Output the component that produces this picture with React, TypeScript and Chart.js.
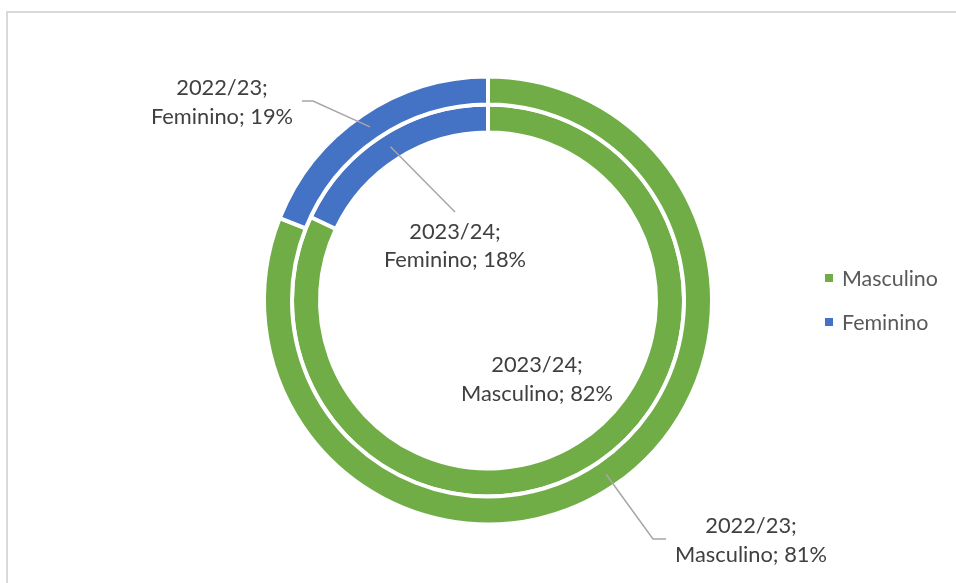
import React, { useEffect, useRef } from "react";
import { Chart, registerables } from "chart.js";

Chart.register(...registerables);

const categories = ["Masculino", "Feminino"];
const seasons = ["2022/23", "2023/24"];
const values2022 = [81, 19];
const values2023 = [82, 18];
const colors = ["#70AD47", "#4472C4"];

// label layout: [datasetIndex, dataIndex, centerX, baseline1, baseline2, leader elbow points]
const labelLayout: Array<{ ds: number; i: number; x: number; y1: number; y2: number; leader: number[][] }> = [
  { ds: 0, i: 1, x: 222, y1: 95, y2: 124, leader: [[302, 101], [313, 101]] },
  { ds: 1, i: 1, x: 455, y1: 239, y2: 267, leader: [[455, 212]] },
  { ds: 1, i: 0, x: 537, y1: 372, y2: 401, leader: [] },
  { ds: 0, i: 0, x: 751, y1: 533, y2: 562, leader: [[666, 539], [653, 539]] },
];

const FONT_FAMILY = "Lato, 'Open Sans', sans-serif";

function fitFontSize(ctx: CanvasRenderingContext2D, text: string, target: number) {
  ctx.save();
  ctx.font = `100px ${FONT_FAMILY}`;
  const w = ctx.measureText(text).width;
  ctx.restore();
  return (100 * target) / w;
}

const labelPlugin = {
  id: "customLabels",
  afterDraw(chart: any) {
    const ctx: CanvasRenderingContext2D = chart.ctx;
    const size = fitFontSize(ctx, "Masculino; 82%", 152);
    ctx.save();
    // leader lines
    ctx.strokeStyle = "#A6A6A6";
    ctx.lineWidth = 1.5;
    labelLayout.forEach((l) => {
      if (!l.leader.length) return;
      const arc = chart.getDatasetMeta(l.ds).data[l.i];
      const c = arc.getCenterPoint();
      ctx.beginPath();
      ctx.moveTo(l.leader[0][0], l.leader[0][1]);
      for (let k = 1; k < l.leader.length; k++) ctx.lineTo(l.leader[k][0], l.leader[k][1]);
      ctx.lineTo(c.x, c.y);
      ctx.stroke();
    });
    // texts
    ctx.font = `${size}px ${FONT_FAMILY}`;
    ctx.fillStyle = "#404040";
    ctx.textAlign = "center";
    ctx.textBaseline = "alphabetic";
    labelLayout.forEach((l) => {
      const ds = chart.data.datasets[l.ds];
      const label = chart.data.labels[l.i];
      ctx.fillText(`${ds.label};`, l.x, l.y1);
      ctx.fillText(`${label}; ${ds.data[l.i]}%`, l.x, l.y2);
    });
    // legend
    const legSize = fitFontSize(ctx, "Masculino", 96);
    ctx.font = `${legSize}px ${FONT_FAMILY}`;
    ctx.textAlign = "left";
    const legendY = [278, 322];
    chart.data.labels.forEach((lab: string, i: number) => {
      ctx.fillStyle = colors[i];
      ctx.fillRect(825, legendY[i] - 4, 8, 8);
      ctx.fillStyle = "#595959";
      ctx.fillText(lab, 842, legendY[i] + 8);
    });
    ctx.restore();
  },
};

export default function App() {
  const ref = useRef<HTMLCanvasElement>(null);
  useEffect(() => {
    if (!ref.current) return;
    const chart = new Chart(ref.current, {
      type: "doughnut",
      data: {
        labels: categories,
        datasets: [
          { label: seasons[0], data: values2022, backgroundColor: colors, borderColor: "#FFFFFF", borderWidth: 4 },
          { label: seasons[1], data: values2023, backgroundColor: colors, borderColor: "#FFFFFF", borderWidth: 4 },
        ],
      },
      options: {
        responsive: false,
        animation: false,
        radius: 224,
        cutout: "75%",
        layout: { padding: { left: 20, right: 0, top: 18, bottom: 0 } },
        plugins: {
          legend: { display: false },
          tooltip: { enabled: false },
          title: { display: false },
        },
      } as any,
      plugins: [labelPlugin],
    });
    return () => chart.destroy();
  }, []);
  return (
    <div style={{ position: "absolute", left: 0, top: 0, width: 956, height: 583, overflow: "hidden", background: "#fff" }}>
      <div
        style={{
          position: "absolute",
          left: 6,
          top: 11,
          width: 2000,
          height: 2000,
          borderTop: "2px solid #D9D9D9",
          borderLeft: "2px solid #D9D9D9",
        }}
      />
      <canvas ref={ref} width={956} height={583} style={{ position: "absolute", left: 0, top: 0 }} />
    </div>
  );
}
